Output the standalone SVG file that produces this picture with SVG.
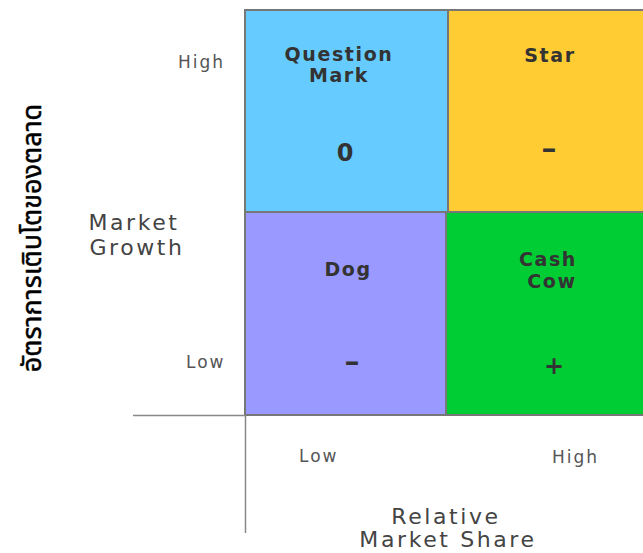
<svg xmlns="http://www.w3.org/2000/svg" width="643" height="553" viewBox="0 0 643 553">
<style>
.cell{stroke:#777;stroke-width:2}
.lbl{font-family:"DejaVu Sans",sans-serif;font-weight:bold;font-size:19px;fill:#333;text-anchor:middle;letter-spacing:1.6px}
.sym{font-family:"DejaVu Sans",sans-serif;font-weight:bold;font-size:24px;fill:#333;text-anchor:middle}
.tick{font-family:"DejaVu Sans",sans-serif;font-size:17px;fill:#555;letter-spacing:2px}
.axis{font-family:"DejaVu Sans",sans-serif;font-size:22px;fill:#444;text-anchor:middle;letter-spacing:2.6px}
.ax{stroke:#888;stroke-width:1.5;fill:none}
</style>
<rect width="643" height="553" fill="#fff"/>
<g id="question-mark">
<rect class="cell" x="245" y="10" width="203" height="202" fill="#66ccff"/>
<text class="lbl" x="339" y="61">Question</text>
<text class="lbl" x="339" y="82">Mark</text>
<text class="sym" x="345" y="161">0</text>
</g>
<g id="star">
<rect class="cell" x="448" y="10" width="200" height="202" fill="#ffcc33"/>
<text class="lbl" x="550" y="62">Star</text>
<text class="sym" x="549" y="157" transform="translate(549,150) scale(1.6,1) translate(-549,-150)">-</text>
</g>
<g id="dog">
<rect class="cell" x="245" y="212" width="201" height="203" fill="#9999ff"/>
<text class="lbl" x="348" y="276">Dog</text>
<text class="sym" x="352" y="370" transform="translate(352,363) scale(1.6,1) translate(-352,-363)">-</text>
</g>
<g id="cash-cow">
<rect class="cell" x="446" y="212" width="202" height="203" fill="#00cc33"/>
<text class="lbl" x="548" y="266">Cash</text>
<text class="lbl" x="552" y="288">Cow</text>
<text class="sym" x="554" y="374">+</text>
</g>
<g id="axes">
<line class="ax" x1="133" y1="415.5" x2="245" y2="415.5"/>
<line class="ax" x1="245.5" y1="415" x2="245.5" y2="533"/>
</g>
<text class="tick" x="178" y="68">High</text>
<text class="tick" x="186" y="368">Low</text>
<text class="tick" x="299" y="462">Low</text>
<text class="tick" x="552" y="463">High</text>
<text class="axis" x="134" y="230">Market</text>
<text class="axis" x="137" y="255">Growth</text>
<text class="axis" x="446" y="524">Relative</text>
<text class="axis" x="448" y="547">Market Share</text>
<text x="0" y="0" transform="translate(41,238) rotate(-90)" font-family="'Noto Sans','Noto Sans Thai',sans-serif" font-size="27" stroke="#000" stroke-width="0.5" fill="#000" text-anchor="middle">อัตราการเติบโตของตลาด</text>
</svg>
